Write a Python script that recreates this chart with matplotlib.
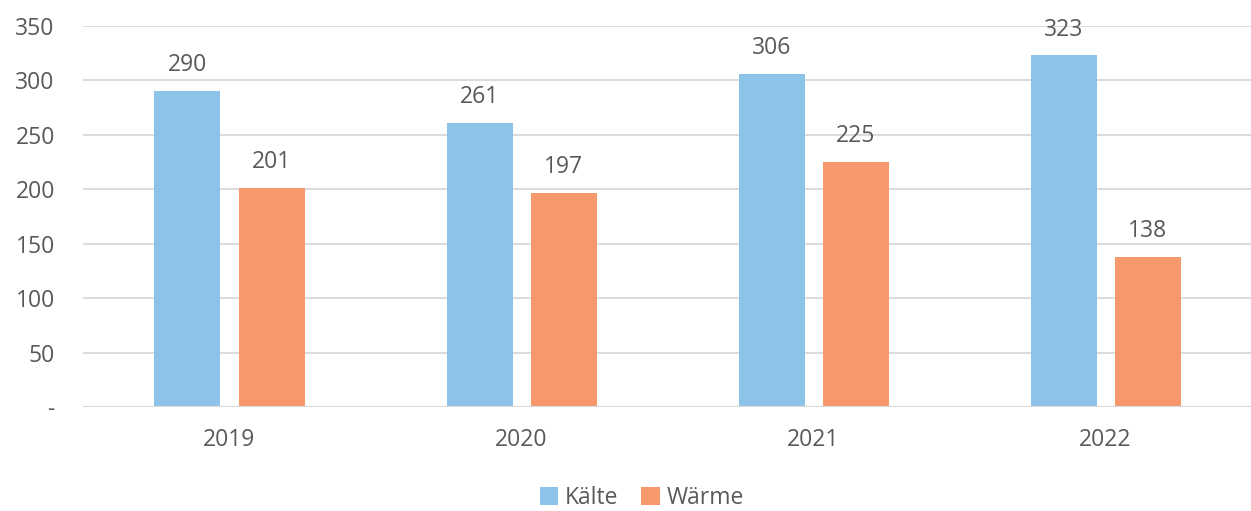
import numpy as np
import matplotlib
matplotlib.use("Agg")
from matplotlib import pyplot as plt

years = ["2019", "2020", "2021", "2022"]
kaelte = [290, 261, 306, 323]
waerme = [201, 197, 225, 138]
yticks = [0, 50, 100, 150, 200, 250, 300, 350]
ytick_labels = ["-", "50", "100", "150", "200", "250", "300", "350"]

plt.rcParams['font.family'] = ['Open Sans', 'DejaVu Sans']
txt = '#595959'
blue = '#8DC3E8'
orange = '#F7976B'
fs = 16.5

fig = plt.figure(figsize=(12.51, 5.11), dpi=100)
ax = fig.add_axes([0.066, 0.2035, 0.934, 0.7456])

x = np.arange(len(years))
w = 0.226
off = 0.144
b1 = ax.bar(x - off + 0.003, kaelte, w, color=blue, label="Kälte", zorder=3)
b2 = ax.bar(x + off + 0.003, waerme, w, color=orange, label="Wärme", zorder=3)

for bars in (b1, b2):
    for r in bars:
        ax.annotate(f"{r.get_height():.0f}", (r.get_x() + r.get_width() / 2, r.get_height()),
                    xytext=(0, 10), textcoords='offset points', ha='center', va='bottom',
                    fontsize=fs, color=txt)

ax.set_xlim(-0.5, 3.5)
ax.set_ylim(0, 350)
ax.set_yticks(yticks, labels=ytick_labels)
ax.set_xticks(x, labels=years)
ax.yaxis.grid(True, color='#D9D9D9', linewidth=1.3, zorder=0)
ax.axhline(0, color='#D9D9D9', linewidth=1.6, zorder=4)
ax.tick_params(axis='both', length=0, labelsize=fs, labelcolor=txt)
ax.tick_params(axis='y', pad=20)
ax.tick_params(axis='x', pad=15)
for s in ax.spines.values():
    s.set_visible(False)

fig.legend(loc='center', bbox_to_anchor=(0.513, 0.025), ncol=2, frameon=False,
           fontsize=fs, labelcolor=txt, handlelength=0.8, handleheight=0.8,
           handletextpad=0.3, columnspacing=1.0)

fig.savefig("out.png", dpi=100)
